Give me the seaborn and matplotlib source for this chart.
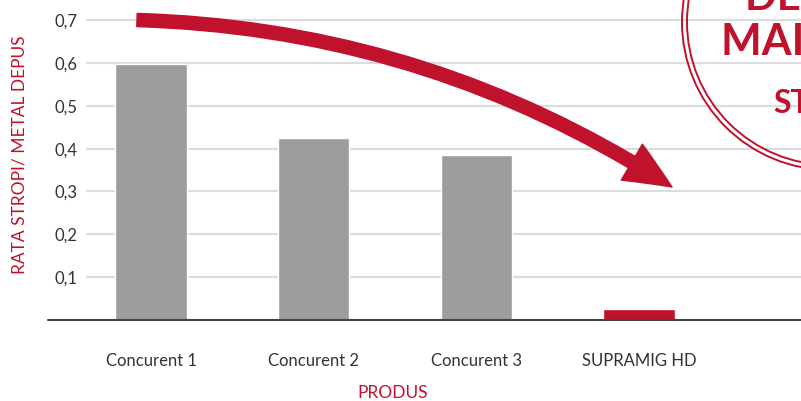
import matplotlib

matplotlib.use("Agg")
import matplotlib.pyplot as plt
import pandas as pd
import seaborn as sns
from matplotlib.patches import Ellipse, FancyArrowPatch

# Data
categories = ["Concurent 1", "Concurent 2", "Concurent 3", "SUPRAMIG HD"]
values = [0.598, 0.425, 0.385, 0.025]
ytick_values = [0.1, 0.2, 0.3, 0.4, 0.5, 0.6, 0.7]
ytick_labels = ["0,1", "0,2", "0,3", "0,4", "0,5", "0,6", "0,7"]

GREY = "#9d9d9b"
RED = "#c0112d"
TEXT = "#333333"

W, H = 801, 401


def fx(px):
    return px / W


def fy(py):
    return 1 - py / H


sns.set_theme(style="white")
plt.rcParams["font.family"] = ["Lato", "DejaVu Sans"]

fig = plt.figure(figsize=(W / 100, H / 100), dpi=100)
ax = fig.add_axes([fx(86), fy(320), fx(801) - fx(86), fy(0) - fy(320)])

df = pd.DataFrame({"produs": categories, "rata": values})
sns.barplot(
    data=df,
    x="produs",
    y="rata",
    hue="produs",
    palette=[GREY, GREY, GREY, RED],
    width=0.44,
    legend=False,
    saturation=1,
    ax=ax,
)

ax.set_xlim(-0.4, 3.996)
ax.set_ylim(0, 0.747)
ax.set_yticks(ytick_values, ytick_labels)
ax.yaxis.grid(True, color="#dcdcdc", linewidth=1.5)
ax.set_axisbelow(True)
ax.tick_params(axis="both", length=0, labelsize=12, labelcolor=TEXT)
ax.tick_params(axis="x", pad=24)
ax.tick_params(axis="y", pad=6)
ax.set_xlabel("")
ax.set_ylabel("")
for s in ax.spines.values():
    s.set_visible(False)
ax.axhline(0, xmin=(48 - 86) / 715, xmax=1, color="#444444", linewidth=1.5, clip_on=False, zorder=5)

fig.text(fx(20), fy(155), "RATA STROPI/ METAL DEPUS", rotation=90, color=RED, fontsize=12.5,
         ha="center", va="center")
fig.text(fx(393), fy(393), "PRODUS", color=RED, fontsize=12.5, ha="center", va="center")

# curved arrow
arrow = FancyArrowPatch(
    (fx(137), fy(20)),
    (fx(672), fy(187)),
    transform=fig.transFigure,
    connectionstyle="arc3,rad=-0.14",
    arrowstyle="Simple,tail_width=9.5,head_width=30,head_length=34",
    color=RED,
    shrinkA=0,
    shrinkB=0,
    zorder=10,
)
fig.add_artist(arrow)

# stamp circle in the corner
for r in (148, 143):
    fig.add_artist(Ellipse((fx(830), fy(22)), 2 * r / W, 2 * r / H, transform=fig.transFigure,
                           fill=False, edgecolor=RED, linewidth=1.4, zorder=11))
fig.text(fx(745), fy(10), "DE 5 ORI", color=RED, fontsize=30, fontweight="bold", ha="left", va="baseline")
fig.text(fx(721), fy(55), "MAI PUȚINI", color=RED, fontsize=31, fontweight="bold", ha="left", va="baseline")
fig.text(fx(773), fy(113), "STROPI", color=RED, fontsize=23, fontweight="bold", ha="left", va="baseline")

fig.savefig("out.png", dpi=100)
